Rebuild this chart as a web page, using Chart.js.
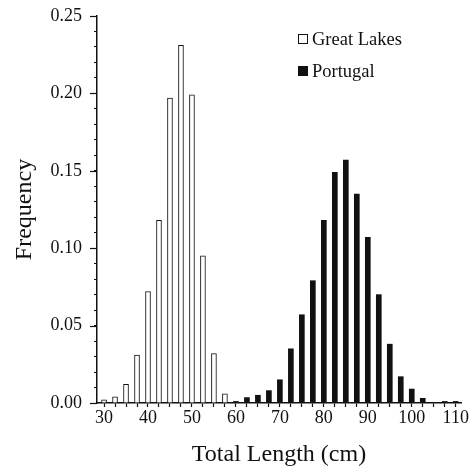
<!DOCTYPE html>
<html>
<head>
<meta charset="utf-8">
<script src="https://cdn.jsdelivr.net/npm/chart.js@4"></script>
<style>
  html, body { margin: 0; padding: 0; background: #fff; }
  #wrap { position: relative; width: 471px; height: 469px; }
  .legend { position: absolute; left: 312px; font-family: "Liberation Serif", "Times New Roman", serif; font-size: 18.5px; color: #111; white-space: nowrap; }
  .box { position: absolute; left: 298px; width: 8px; height: 8px; border: 1px solid #111; }
</style>
</head>
<body>
<div id="wrap">
  <canvas id="chart" width="471" height="469"></canvas>
  <div class="box" style="top:34px; background:#fff"></div>
  <div class="legend" style="top:29px">Great Lakes</div>
  <div class="box" style="top:66px; background:#111"></div>
  <div class="legend" style="top:61px">Portugal</div>
</div>
<script>
// bin centres (cm)
let lakesLengths = [30, 32.5, 35, 37.5, 40, 42.5, 45, 47.5, 50, 52.5, 55, 57.5];
let lakesFreq = [0.002, 0.004, 0.012, 0.031, 0.072, 0.118, 0.197, 0.231, 0.199, 0.095, 0.032, 0.006];

let portugalLengths = [60, 62.5, 65, 67.5, 70, 72.5, 75, 77.5, 80, 82.5, 85, 87.5, 90, 92.5, 95, 97.5, 100, 102.5, 105, 107.5, 110];
let portugalFreq = [0.001, 0.0035, 0.005, 0.008, 0.015, 0.035, 0.057, 0.079, 0.118, 0.149, 0.157, 0.135, 0.107, 0.070, 0.038, 0.017, 0.009, 0.003, 0, 0.001, 0.001];

let xTickLabels = [30, 40, 50, 60, 70, 80, 90, 100, 110];
let yTickLabels = [0, 0.05, 0.10, 0.15, 0.20, 0.25];

function toPoints(xs, ys) {
    let pts = [];
    for (let i = 0; i < xs.length; i++) {
        pts.push({ x: xs[i], y: ys[i] });
    }
    return pts;
}

function isMajorY(value) {
    for (let k = 0; k < yTickLabels.length; k++) {
        if (Math.abs(value - yTickLabels[k]) < 1e-6) return yTickLabels[k];
    }
    return null;
}

// longer marks for the labelled y ticks
let majorTicks = {
    id: 'majorTicks',
    afterDraw: function (chart) {
        let y = chart.scales.y;
        let c = chart.ctx;
        c.save();
        c.strokeStyle = '#111';
        c.lineWidth = 1.2;
        for (let k = 0; k < yTickLabels.length; k++) {
            let py = Math.round(y.getPixelForValue(yTickLabels[k])) + 0.5;
            c.beginPath();
            c.moveTo(y.right - 7, py);
            c.lineTo(y.right, py);
            c.stroke();
        }
        c.restore();
    }
};

let serif = "'Liberation Serif', 'Times New Roman', serif";
Chart.defaults.font.family = serif;
Chart.defaults.color = '#111';

let ctx = document.getElementById('chart').getContext('2d');
let chart = new Chart(ctx, {
    type: 'bar',
    data: {
        datasets: [{
            label: 'Great Lakes',
            data: toPoints(lakesLengths, lakesFreq),
            backgroundColor: '#ffffff',
            borderColor: '#111111',
            borderWidth: 1,
            barThickness: 5,
            grouped: false
        }, {
            label: 'Portugal',
            data: toPoints(portugalLengths, portugalFreq),
            backgroundColor: '#111111',
            borderColor: '#111111',
            borderWidth: 0,
            barThickness: 5,
            grouped: false
        }]
    },
    options: {
        responsive: false,
        animation: false,
        layout: {
            padding: { left: 0, right: 10, top: 16, bottom: 0 }
        },
        scales: {
            x: {
                type: 'linear',
                offset: false,
                min: 28.4,
                max: 111.2,
                border: { color: '#111', width: 1.5 },
                grid: { offset: false, drawOnChartArea: false, drawTicks: true, tickLength: 4, tickColor: '#111', tickWidth: 1.2 },
                afterBuildTicks: function (scale) {
                    let t = [];
                    for (let v = 30; v <= 110; v += 2.5) t.push({ value: v });
                    scale.ticks = t;
                },
                ticks: {
                    autoSkip: false,
                    maxRotation: 0,
                    padding: 0,
                    font: { size: 18 },
                    callback: function (value) {
                        return xTickLabels.indexOf(value) >= 0 ? String(value) : '';
                    }
                },
                title: {
                    display: true,
                    text: 'Total Length (cm)',
                    font: { size: 24 },
                    padding: { top: 0, bottom: 0 }
                },
                afterFit: function (scale) {
                    scale.height = 66;
                    scale.paddingLeft = 0;
                    scale.paddingRight = 0;
                }
            },
            y: {
                min: 0,
                max: 0.25,
                border: { color: '#111', width: 1.5 },
                grid: { drawOnChartArea: false, drawTicks: true, tickLength: 3, tickColor: '#111', tickWidth: 1.2 },
                ticks: {
                    stepSize: 0.01,
                    autoSkip: false,
                    padding: 12,
                    font: { size: 18 },
                    callback: function (value) {
                        let m = isMajorY(value);
                        return m === null ? '' : m.toFixed(2);
                    }
                },
                title: {
                    display: true,
                    text: 'Frequency',
                    font: { size: 24 },
                    padding: { top: 10, bottom: 0 }
                },
                afterFit: function (scale) {
                    scale.width = 97;
                    scale.paddingTop = 0;
                    scale.paddingBottom = 0;
                }
            }
        },
        plugins: {
            legend: { display: false },
            tooltip: { enabled: false }
        }
    },
    plugins: [majorTicks]
});
</script>
</body>
</html>
